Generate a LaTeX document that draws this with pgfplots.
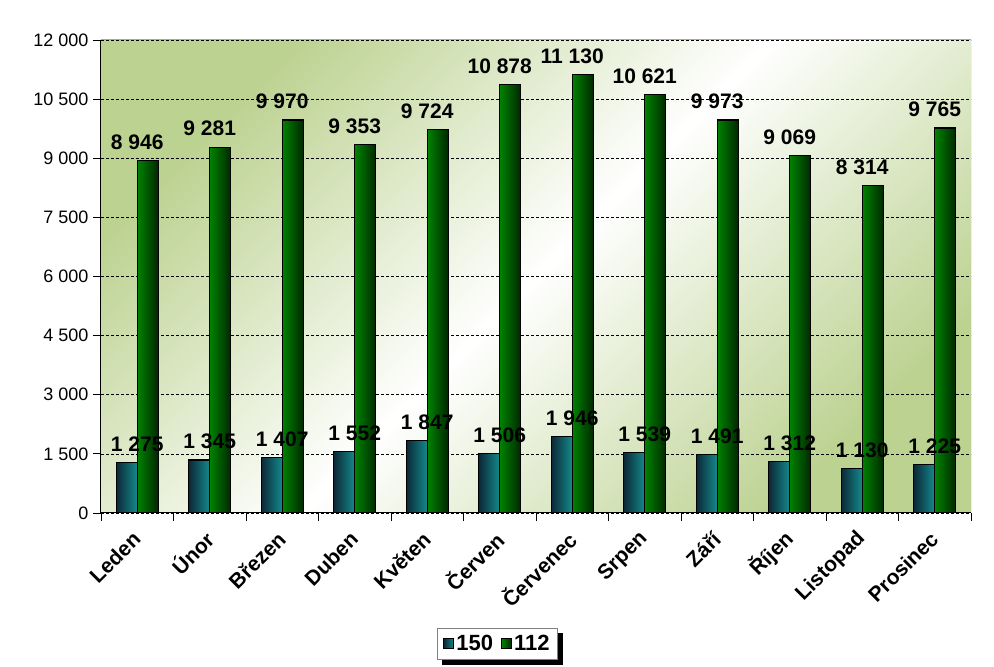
\documentclass[border=0pt]{standalone}
\usepackage{pgfplots}
\usepackage{pgfplotstable}
\pgfplotsset{compat=1.18}
\usepackage{fontspec}
\setmainfont{Liberation Sans}
\pgfdeclarelayer{background}
\pgfsetlayers{background,main}
\definecolor{bgG}{RGB}{188,210,145}
\definecolor{tealD}{RGB}{12,40,55}
\definecolor{tealL}{RGB}{20,138,140}
\definecolor{grnL}{RGB}{0,130,0}
\definecolor{grnD}{RGB}{0,40,0}
\pgfplotstableread{
x a b
0 1275 8946
1 1345 9281
2 1407 9970
3 1552 9353
4 1847 9724
5 1506 10878
6 1946 11130
7 1539 10621
8 1491 9973
9 1312 9069
10 1130 8314
11 1225 9765
}\datatable
\begin{document}
\begin{tikzpicture}
\useasboundingbox (0,0) rectangle (994pt,667pt);
\begin{axis}[
  at={(101pt,154pt)}, anchor=south west,
  scale only axis, width=870pt, height=473pt,
  xmin=-0.5, xmax=11.5, ymin=0, ymax=12000,
  axis x line*=bottom, axis y line*=left,
  axis line style={black, line width=1pt},
  ytick={0,1500,...,12000},
  scaled y ticks=false,
  xtick={-0.5,0.5,...,11.5},
  xticklabels={},
  extra x ticks={0,1,...,11},
  extra x tick labels={Leden,Únor,Březen,Duben,Květen,Červen,Červenec,Srpen,Září,Říjen,Listopad,Prosinec},
  extra x tick style={major tick length=0pt, grid=none,
    xticklabel style={yshift=-20pt, xshift=2pt, font=\bfseries\fontsize{21}{21}\selectfont, rotate=45, anchor=east}},
  tick align=outside,
  major tick length=8pt,
  tick style={black, line width=0.8pt},
  yticklabel style={font=\fontsize{18}{18}\selectfont, xshift=-1pt},
  /pgf/number format/.cd, 1000 sep={\ }, assume math mode=true, /pgfplots/.cd,
  ymajorgrids,
  major grid style={black, line width=0.6pt, dash pattern=on 3pt off 2pt},
  every node near coord/.append style={font=\bfseries\fontsize{21}{21}\selectfont, black, yshift=7pt},
  axis background/.style={top color=bgG, bottom color=bgG, middle color=white, shading angle=45},
  legend style={at={(axis description cs:0.4557,-0.243)}, anchor=north, name=leg,
    legend columns=-1, draw=gray, line width=1.2pt, fill=white,
    font=\bfseries\fontsize{22}{22}\selectfont,
    inner xsep=6pt, inner ysep=5pt,
    /tikz/every even column/.append style={column sep=6pt}},
  legend image code/.code={\draw[#1] (0pt,-5pt) rectangle (10pt,5pt);},
]
\pgfplotsinvokeforeach{0,...,11}{
  \addplot[ybar, bar width=21pt, bar shift=-10.5pt, draw=black, line width=1.3pt,
    left color=tealD, right color=tealL, nodes near coords, forget plot]
    table[x=x, y=a, restrict expr to domain={\coordindex}{#1:#1}] {\datatable};
  \addplot[ybar, bar width=21pt, bar shift=10.5pt, draw=black, line width=1.3pt,
    left color=grnL, middle color=grnL, right color=grnD, nodes near coords, forget plot]
    table[x=x, y=b, restrict expr to domain={\coordindex}{#1:#1}] {\datatable};
}
\addlegendimage{draw=black, line width=1pt, left color=tealD, right color=tealL}
\addlegendentry{150}
\addlegendimage{draw=black, line width=1pt, left color=grnL, right color=grnD}
\addlegendentry{112}
\draw[gray!70, line width=1pt] (rel axis cs:0,1) -- (rel axis cs:1,1) -- (rel axis cs:1,0);
\end{axis}
\begin{pgfonlayer}{background}
\fill[black] ([xshift=5pt,yshift=-5pt]leg.south west) rectangle ([xshift=5pt,yshift=-5pt]leg.north east);
\end{pgfonlayer}
\end{tikzpicture}
\end{document}
